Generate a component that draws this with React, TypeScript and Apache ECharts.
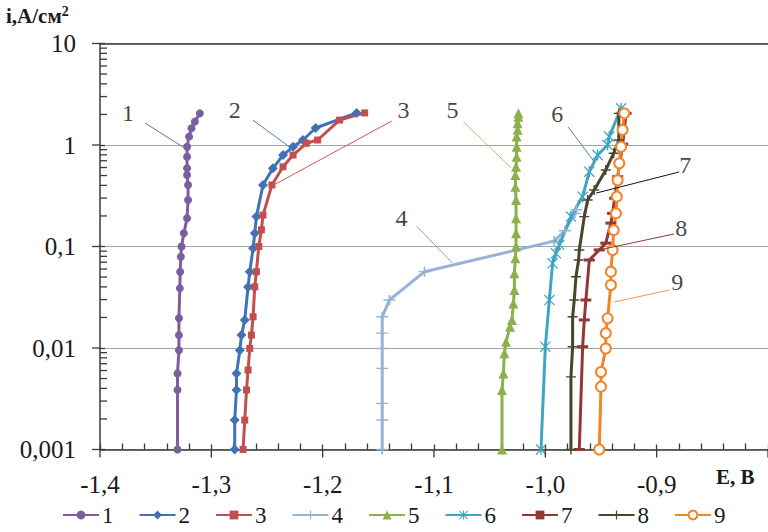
import React, { useEffect, useRef } from "react";
import * as echarts from "echarts";

// ---- data (E in V, i in A/cm2) ----
const E1 = [-1.3304, -1.3304, -1.3304, -1.3291, -1.3291, -1.3291, -1.3283, -1.328, -1.3274, -1.3268, -1.3247, -1.3218, -1.3209, -1.3209, -1.3218, -1.3218, -1.3218, -1.3218, -1.32, -1.3178, -1.3148, -1.3103];
const I1 = [0.001, 0.00386, 0.0056, 0.0095, 0.0134, 0.0196, 0.0387, 0.0565, 0.0794, 0.1, 0.135, 0.19, 0.287, 0.404, 0.506, 0.589, 0.767, 0.96, 1.21, 1.46, 1.7, 2.05];

const E2 = [-1.279, -1.279, -1.2774, -1.2774, -1.2744, -1.2729, -1.27, -1.267, -1.2655, -1.2625, -1.261, -1.2595, -1.2536, -1.2447, -1.2356, -1.2266, -1.2177, -1.2063, -1.1695];
const I2 = [0.001, 0.00195, 0.00386, 0.0056, 0.0095, 0.0134, 0.0189, 0.04, 0.0565, 0.096, 0.135, 0.197, 0.404, 0.589, 0.796, 0.96, 1.12, 1.47, 2.07];

const E3 = [-1.2715, -1.27, -1.2684, -1.267, -1.2655, -1.264, -1.2625, -1.261, -1.2595, -1.2574, -1.255, -1.2536, -1.2456, -1.2356, -1.2266, -1.2147, -1.2045, -1.1848, -1.1623];
const I3 = [0.001, 0.00195, 0.00386, 0.00607, 0.0099, 0.0134, 0.0203, 0.04, 0.0565, 0.1, 0.146, 0.204, 0.404, 0.61, 0.796, 1.04, 1.12, 1.76, 2.07];

const E4 = [-1.1465, -1.1465, -1.1465, -1.1465, -1.1465, -1.1465, -1.1465, -1.14, -1.1085, -0.992, -0.9825, -0.9735, -0.9721];
const I4 = [0.001, 0.00195, 0.00285, 0.0063, 0.0099, 0.014, 0.0203, 0.0297, 0.0565, 0.113, 0.143, 0.212, 0.23];

const E5 = [-1.0389, -1.0389, -1.0377, -1.0368, -1.0353, -1.0317, -1.03, -1.0287, -1.0278, -1.0278, -1.0269, -1.0263, -1.0263, -1.0263, -1.0263, -1.0269, -1.0269, -1.0263, -1.0258, -1.0258, -1.0258, -1.0249, -1.0249, -1.0242, -1.0242];
const I5 = [0.001, 0.00386, 0.0056, 0.00887, 0.0115, 0.0162, 0.0189, 0.0275, 0.0372, 0.0545, 0.0765, 0.1, 0.135, 0.19, 0.287, 0.387, 0.506, 0.61, 0.767, 0.96, 1.21, 1.41, 1.64, 1.9, 2.05];

const E6 = [-1.0039, -1.0, -0.9964, -0.9935, -0.9905, -0.9874, -0.977, -0.9665, -0.9605, -0.953, -0.9441, -0.9426, -0.932];
const I6 = [0.001, 0.0103, 0.0297, 0.0683, 0.0857, 0.104, 0.197, 0.31, 0.546, 0.797, 1.0, 1.21, 2.3];

const E7 = [-0.9695, -0.9665, -0.965, -0.9636, -0.9605, -0.9516, -0.9457, -0.9411, -0.9396, -0.9377, -0.935, -0.9305, -0.9275];
const I7 = [0.001, 0.0103, 0.0189, 0.0297, 0.0736, 0.0925, 0.108, 0.17, 0.212, 0.299, 0.488, 1.02, 2.05];

const E8 = [-0.977, -0.977, -0.9755, -0.9755, -0.974, -0.9725, -0.9701, -0.9695, -0.965, -0.962, -0.9561, -0.9457, -0.9386, -0.934, -0.934];
const I8 = [0.001, 0.0052, 0.0103, 0.0203, 0.0297, 0.0503, 0.0736, 0.0925, 0.197, 0.287, 0.36, 0.568, 0.83, 1.12, 2.05];

const E9 = [-0.9516, -0.95, -0.95, -0.9457, -0.9457, -0.9441, -0.9411, -0.9411, -0.9396, -0.9386, -0.9366, -0.9358, -0.9351, -0.9336, -0.932, -0.9306, -0.9291];
const I9 = [0.001, 0.00416, 0.0058, 0.0099, 0.014, 0.0196, 0.0418, 0.0565, 0.0925, 0.145, 0.212, 0.31, 0.45, 0.66, 0.96, 1.41, 2.05];

const seriesNames = ["1", "2", "3", "4", "5", "6", "7", "8", "9"];
const seriesE = [E1, E2, E3, E4, E5, E6, E7, E8, E9];
const seriesI = [I1, I2, I3, I4, I5, I6, I7, I8, I9];

// annotation callouts: label position and leader line end points
const calloutText = ["1", "2", "3", "4", "5", "6", "7", "8", "9"];
const calloutLabelE = [-1.3749, -1.2789, -1.1274, -1.1291, -1.0834, -0.9892, -0.8744, -0.878, -0.8816];
const calloutLabelI = [2.07, 2.21, 2.21, 0.191, 2.21, 2.02, 0.635, 0.152, 0.0447];
const calloutFromE = [-1.3596, -1.2628, -1.1381, -1.1157, -1.0735, -0.9794, -0.8798, -0.8843, -0.8888];
const calloutFromI = [1.65, 1.76, 1.72, 0.159, 1.69, 1.5, 0.542, 0.133, 0.0372];
const calloutToE = [-1.3256, -1.2296, -1.2457, -1.0834, -1.0305, -0.956, -0.9543, -0.9516, -0.9381];
const calloutToI = [0.955, 0.955, 0.394, 0.0687, 0.593, 0.681, 0.336, 0.0925, 0.0284];

const yDecades = [0.001, 0.01, 0.1, 1, 10];
const xMajor = [-1.4, -1.3, -1.2, -1.1, -1.0, -0.9, -0.8];

const COLORS = ["#7B5E9F", "#3F72B6", "#C0504D", "#95B3D7", "#8DB04A", "#3FA6C1", "#953735", "#4A452A", "#F2852A"];
const CALLOUT_COLORS = ["#8064A2", "#4F81BD", "#D9534F", "#7F9FCF", "#A6C86A", "#4F81BD", "#111111", "#953735", "#F79646"];

const PLUS = "path://M4.3,0H5.7V4.3H10V5.7H5.7V10H4.3V5.7H0V4.3H4.3Z";
const DASH = "path://M0,0H10V2.4H0Z";
const STAR = "path://M4.4,0H5.6V10H4.4Z M0.8,0.0L10,9.2L9.2,10L0,0.8Z M9.2,0L10,0.8L0.8,10L0,9.2Z";

const SYMBOLS: any[] = ["circle", "diamond", "rect", PLUS, "triangle", STAR, DASH, PLUS, "emptyCircle"];
const SIZES: any[] = [8, 10, 7, [12, 10], 10, 11, [11, 3], 10, 10];

const SERIF = "'Liberation Serif', 'Times New Roman', serif";

export default function App() {
  const ref = useRef<HTMLDivElement>(null);
  useEffect(() => {
    if (!ref.current) return;
    const chart = echarts.init(ref.current, null, { renderer: "svg" });

    const dataSeries = seriesNames.map((name, k) => ({
      name,
      type: "line",
      data: seriesE[k].map((e, j) => [e, seriesI[k][j]]),
      symbol: SYMBOLS[k],
      symbolSize: SIZES[k],
      showAllSymbol: true,
      lineStyle: { color: COLORS[k], width: 3 },
      itemStyle: { color: COLORS[k], borderColor: COLORS[k], borderWidth: k === 8 ? 1.5 : 0 },
      z: 3,
    }));

    const calloutLines = calloutText.map((t, k) => ({
      name: "callout" + t,
      type: "line",
      data: [
        [calloutFromE[k], calloutFromI[k]],
        [calloutToE[k], calloutToI[k]],
      ],
      symbol: "none",
      lineStyle: { color: CALLOUT_COLORS[k], width: 1 },
      silent: true,
      z: 4,
    }));

    const calloutLabels = {
      name: "calloutLabels",
      type: "scatter",
      data: calloutText.map((t, k) => ({ value: [calloutLabelE[k], calloutLabelI[k]], name: t })),
      symbolSize: 0,
      silent: true,
      label: {
        show: true,
        position: "inside",
        formatter: (p: any) => p.name,
        fontFamily: SERIF,
        fontSize: 24,
        color: "#111",
      },
      z: 6,
    };

    const tickData: number[][] = [];
    for (let d = 0; d < 4; d++) {
      for (let m = 2; m <= 9; m++) tickData.push([-1.4, m * yDecades[d], 0]);
    }
    yDecades.forEach((v) => tickData.push([-1.4, v, 1]));
    xMajor.forEach((v) => tickData.push([v, 0.001, 2]));

    const ticks = {
      name: "ticks",
      type: "custom",
      silent: true,
      clip: false,
      z: 10,
      encode: { x: 0, y: 1 },
      data: tickData,
      renderItem: (params: any, api: any) => {
        const p = api.coord([api.value(0), api.value(1)]);
        const t = api.value(2);
        let shape;
        if (t === 0) shape = { x1: p[0], y1: p[1], x2: p[0] + 7, y2: p[1] };
        else if (t === 1) shape = { x1: p[0] - 8, y1: p[1], x2: p[0], y2: p[1] };
        else shape = { x1: p[0], y1: p[1], x2: p[0], y2: p[1] + 8 };
        return { type: "line", shape, style: { stroke: "#3a3a3a", lineWidth: 1.3 } };
      },
    };

    chart.setOption({
      animation: false,
      backgroundColor: "#ffffff",
      grid: { left: 100, top: 43.5, width: 669, height: 406, containLabel: false },
      xAxis: [
        {
          type: "value",
          min: -1.4,
          max: -0.8,
          interval: 0.1,
          axisLine: { show: true, onZero: false, lineStyle: { color: "#3a3a3a", width: 1.5 } },
          axisTick: { show: true, inside: true, length: 5, lineStyle: { color: "#3a3a3a", width: 1.3 } },
          minorTick: { show: true, splitNumber: 5, length: 6, lineStyle: { color: "#3a3a3a", width: 1.3 } },
          splitLine: { show: false },
          axisLabel: {
            showMaxLabel: false,
            margin: 22,
            fontFamily: SERIF,
            fontSize: 25,
            color: "#1a1a1a",
            formatter: (v: number) => v.toFixed(1).replace(".", ","),
          },
        },
        {
          type: "value",
          position: "top",
          min: -1.4,
          max: -0.8,
          axisLine: { show: true, lineStyle: { color: "#3a3a3a", width: 1.5 } },
          axisTick: { show: false },
          axisLabel: { show: false },
          splitLine: { show: false },
        },
      ],
      yAxis: {
        type: "log",
        logBase: 10,
        min: 0.001,
        max: 10,
        axisLine: { show: true, onZero: false, lineStyle: { color: "#3a3a3a", width: 1.5 } },
        axisTick: { show: true, inside: true, length: 5, lineStyle: { color: "#3a3a3a", width: 1.3 } },
        splitLine: { show: true, lineStyle: { color: "#a6a6a6", width: 1.2 } },
        axisLabel: {
          margin: 24,
          fontFamily: SERIF,
          fontSize: 25,
          color: "#1a1a1a",
          formatter: (v: number) =>
            v >= 1 ? String(Math.round(v)) : v.toFixed(Math.round(-Math.log10(v))).replace(".", ","),
        },
      },
      legend: {
        data: seriesNames,
        left: 62,
        top: 503,
        padding: 0,
        itemWidth: 36,
        itemHeight: 11,
        itemGap: 25,
        textStyle: { fontFamily: SERIF, fontSize: 23, lineHeight: 24, color: "#1a1a1a", padding: [0, 0, 0, -2] },
      },
      graphic: [
        {
          type: "text",
          left: 6,
          top: 4,
          style: {
            text: "{a|i,A/см}{b|2}",
            rich: {
              a: { fontFamily: SERIF, fontWeight: "bold", fontSize: 21, fill: "#1a1a1a", verticalAlign: "bottom" },
              b: { fontFamily: SERIF, fontWeight: "bold", fontSize: 14, fill: "#1a1a1a", verticalAlign: "top", padding: [0, 0, 8, 0] },
            },
          },
        },
        {
          type: "text",
          left: 716,
          top: 466,
          style: { text: "E, B", fontFamily: SERIF, fontWeight: "bold", fontSize: 21, fill: "#1a1a1a" },
        },
      ],
      series: [...dataSeries, ...calloutLines, calloutLabels, ticks],
    });
    return () => chart.dispose();
  }, []);
  return (
    <div
      ref={ref}
      style={{ position: "fixed", left: 0, top: 0, width: 768, height: 532, background: "#fff" }}
    />
  );
}
